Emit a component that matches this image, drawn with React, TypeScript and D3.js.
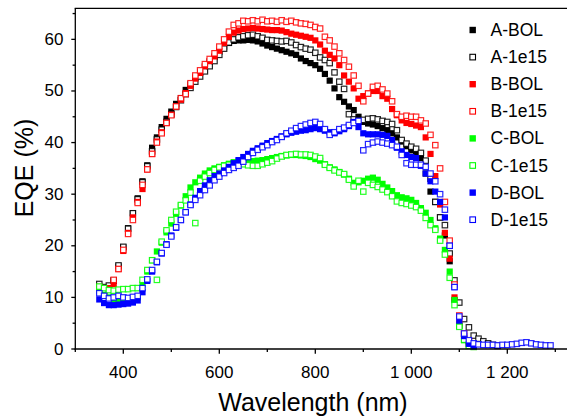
import React from "react";
import * as d3 from "d3";

const wavelength = [
  350, 360, 370, 380, 390, 400, 410, 420, 430, 440,
  450, 460, 470, 480, 490, 500, 510, 520, 530, 540,
  550, 560, 570, 580, 590, 600, 610, 620, 630, 640,
  650, 660, 670, 680, 690, 700, 710, 720, 730, 740,
  750, 760, 770, 780, 790, 800, 810, 820, 830, 840,
  850, 860, 870, 880, 890, 900, 910, 920, 930, 940,
  950, 960, 970, 980, 990, 1000, 1010, 1020, 1030, 1040,
  1050, 1060, 1070, 1080, 1090, 1100, 1110, 1120, 1130, 1140,
  1150, 1160, 1170, 1180, 1190, 1200, 1210, 1220, 1230, 1240,
  1250, 1260, 1270, 1280, 1290,
];

const aBOL = [
  12.0, 11.5, 12.0, 13.2, 16.0, 19.7, 23.4, 26.3, 29.2, 32.5,
  35.6, 39.0, 41.0, 43.0, 44.6, 46.0, 47.5, 48.6, 50.2, 51.3,
  52.6, 53.6, 54.7, 55.7, 56.6, 57.6, 58.6, 59.3, 59.7, 59.8,
  59.8, 59.9, 59.8, 59.6, 59.2, 58.8, 58.5, 58.2, 57.9, 57.6,
  57.3, 57.0, 56.3, 55.8, 55.4, 55.0, 54.3, 53.3, 52.0, 50.5,
  48.8, 47.9, 47.0, 46.3, 45.0, 44.0, 43.7, 43.5, 43.2, 42.8,
  42.4, 41.8, 41.0, 40.2, 39.3, 38.5, 37.9, 37.0, 34.0, 30.5,
  28.5, 25.5, 22.0, 17.0, 9.5, 4.5, 2.0, 1.0, 0.5,
];

const a1e15 = [
  12.6, 12.0, 12.3, 13.3, 16.2, 19.8, 23.3, 26.3, 29.0, 32.3,
  35.4, 38.3, 40.6, 42.5, 44.0, 45.5, 46.9, 48.2, 49.4, 50.6,
  51.8, 52.8, 53.8, 54.8, 55.8, 57.0, 58.2, 59.4, 60.0, 60.4,
  60.6, 60.8, 60.9, 60.6, 60.3, 59.9, 59.8, 59.7, 59.6, 59.7,
  59.4, 58.9, 58.5, 58.2, 58.0, 57.4, 56.5, 56.0, 55.4, 53.6,
  51.8, 50.4, 45.5, 44.5, 44.3, 44.4, 44.6, 44.7, 44.5, 44.2,
  44.0, 43.6, 42.4, 40.5, 39.8, 39.2, 38.8, 38.0, 36.5, 33.0,
  28.5, 25.5, 24.0, 18.5, 13.3, 9.0, 5.8, 4.2, 2.6, 2.0,
  1.5, 1.1, 0.8, 0.6,
];

const bBOL = [
  11.8, 11.2, 11.8, 12.6, 15.5, 19.0, 22.5, 25.5, 28.5, 31.0,
  34.8, 37.8, 40.2, 42.0, 43.8, 45.4, 47.0, 48.3, 49.6, 51.0,
  52.4, 53.5, 54.8, 55.8, 56.7, 57.8, 59.3, 60.5, 61.3, 61.7,
  62.0, 62.1, 62.2, 62.1, 62.0, 61.9, 61.8, 61.8, 61.7, 61.4,
  61.1, 60.9, 60.7, 60.5, 60.3, 59.8, 59.0, 57.8, 57.0, 56.3,
  55.0, 53.0, 51.8, 50.5, 48.5, 49.0, 49.5, 50.0, 50.0, 49.0,
  48.5, 46.5, 45.3, 44.3, 43.8, 43.6, 43.3, 43.0, 41.0, 37.8,
  33.5, 28.0, 22.5, 17.5, 10.0, 5.0, 2.0, 0.8, 0.4,
];

const b1e15 = [
  12.0, 11.0, 11.5, 13.4, 15.5, 19.2, 22.3, 25.0, 28.3, 31.8,
  34.8, 37.8, 40.0, 41.8, 43.8, 45.3, 47.0, 48.6, 49.4, 51.5,
  53.0, 54.0, 55.2, 56.2, 57.3, 58.6, 60.0, 61.5, 62.8, 63.1,
  63.6, 63.5, 63.7, 63.5, 63.8, 63.5, 63.6, 63.4, 63.7, 63.4,
  63.6, 63.3, 63.1, 63.0, 62.8, 62.4, 62.1, 60.5, 59.8, 58.6,
  57.3, 56.0, 54.7, 53.0, 51.0, 48.0, 49.5, 50.8, 51.0, 50.3,
  49.5, 48.0, 45.5, 45.0, 45.2, 45.0, 45.0, 44.3, 43.7, 41.5,
  39.5, 35.0, 28.5, 21.0, 12.5, 6.5, 3.0, 1.5, 0.8,
];

const cBOL = [
  11.2, 10.5, 10.0, 9.6, 9.4, 9.3, 9.3, 9.5, 10.0, 12.5,
  15.0, 17.2, 18.9, 20.6, 22.6, 24.3, 26.2, 27.8, 29.6, 31.3,
  32.3, 33.2, 34.0, 34.6, 35.0, 35.3, 35.6, 35.9, 36.2, 36.3,
  36.4, 36.4, 36.4, 36.5, 36.6, 36.8, 37.0, 37.2, 37.4, 37.5,
  37.6, 37.6, 37.5, 37.4, 37.2, 36.8, 36.5, 35.8, 35.2, 34.8,
  34.3, 33.8, 33.0, 32.2, 32.3, 32.6, 33.0, 33.2, 32.8, 32.0,
  31.3, 30.6, 29.8, 29.4, 29.2, 28.9, 28.3, 27.3, 26.4, 25.0,
  23.4, 21.4, 19.2, 15.0, 9.5, 4.5, 1.7, 0.6,
];

const c1e15 = [
  12.1, 11.8, 11.4, 11.3, 11.5, 11.6, 11.6, 11.8, 11.8, 13.4,
  15.3, 17.2, 13.4, 20.8, 23.0, 25.0, 26.6, 27.9, 28.8, 30.3,
  24.4, 32.6, 33.4, 34.1, 34.7, 35.2, 35.5, 35.7, 35.9, 35.9,
  35.8, 35.6, 35.5, 35.5, 35.8, 36.1, 36.4, 36.9, 37.3, 37.6,
  37.7, 37.8, 37.7, 37.7, 37.6, 37.3, 37.0, 35.7, 35.1, 34.6,
  34.2, 33.9, 32.8, 31.5, 32.6, 30.5, 32.2, 31.8, 31.4, 30.9,
  30.4, 29.6, 28.6, 28.3, 28.1, 27.8, 27.5, 26.8, 25.4, 24.0,
  23.1, 21.0, 18.3, 13.8, 8.5, 4.3, 1.8, 0.6, 0.4,
];

const dBOL = [
  9.6, 8.9, 8.5, 8.5, 8.6, 8.7, 8.8, 9.0, 9.4, 11.0,
  13.2, 15.0, 16.8, 18.5, 20.3, 22.0, 23.5, 25.0, 26.5, 28.0,
  29.3, 30.6, 31.7, 32.7, 33.5, 34.0, 34.6, 35.3, 36.0, 36.6,
  37.2, 37.8, 38.4, 38.9, 39.4, 39.9, 40.3, 40.7, 41.2, 41.6,
  41.9, 42.1, 42.3, 42.4, 42.6, 42.8, 42.6, 42.3, 42.0, 41.8,
  42.2, 42.6, 43.2, 44.0, 43.0, 41.8, 41.6, 41.6, 41.6, 41.5,
  41.3, 40.5, 39.0, 38.3, 37.6, 37.2, 37.0, 35.5, 34.0, 32.5,
  30.5, 28.5, 25.5, 20.0, 12.0, 5.5, 2.5, 1.0, 0.5,
];

const d1e15 = [
  10.8, 10.3, 9.8, 10.0, 10.3, 10.0, 9.9, 10.1, 10.3, 11.8,
  13.5, 15.3, 16.9, 18.6, 20.2, 21.8, 23.6, 25.0, 26.5, 27.9,
  28.9, 29.8, 30.8, 31.7, 32.7, 33.4, 34.1, 34.7, 35.1, 35.5,
  36.3, 37.2, 38.0, 38.6, 39.1, 39.5, 40.1, 40.5, 41.1, 41.8,
  42.3, 42.8, 43.2, 43.5, 43.8, 44.0, 43.6, 42.6, 41.5, 42.0,
  42.6, 42.9, 43.4, 43.8, 44.2, 38.5, 39.7, 40.0, 40.2, 40.0,
  39.8, 39.5, 39.2, 37.6, 36.0, 35.7, 35.7, 35.7, 35.3, 34.0,
  32.5, 30.0, 27.0, 20.0, 12.0, 6.3, 3.0, 1.7, 1.1, 0.9,
  0.8, 0.8, 0.8, 0.7, 0.8, 0.8, 0.9, 1.0, 1.2, 1.3,
  1.1, 0.9, 0.8, 0.7, 0.7,
];

const seriesNames = ["A-BOL", "A-1e15", "B-BOL", "B-1e15", "C-BOL", "C-1e15", "D-BOL", "D-1e15"];
const seriesValues = [aBOL, a1e15, bBOL, b1e15, cBOL, c1e15, dBOL, d1e15];
const seriesColors = ["#000000", "#000000", "#ff0000", "#ff0000", "#00ff00", "#00ff00", "#0000ff", "#0000ff"];
const seriesFilled = [true, false, true, false, true, false, true, false];

const xMajorTicks = [400, 600, 800, 1000, 1200];
const xTickLabels = ["400", "600", "800", "1 000", "1 200"];
const xMinorTicks = [300, 500, 700, 900, 1100, 1300];
const yMajorTicks = [0, 10, 20, 30, 40, 50, 60];
const yMinorTicks = [5, 15, 25, 35, 45, 55, 65];

const W = 567;
const H = 420;
const FONT = "'Liberation Sans', Arial, sans-serif";

export default function App() {
  const left = 75.3;
  const bottom = 349;
  const top = 8.4;
  const x = d3.scaleLinear().domain([300, 1350]).range([left, left + 1050 * 0.48]);
  const y = d3.scaleLinear().domain([0, 66]).range([bottom, top]);

  const S = 5.4; // marker inner size
  const SF = 6.2; // filled marker size

  return (
    <div style={{ position: "absolute", left: 0, top: 0 }}>
      <svg width={W} height={H} viewBox={`0 0 ${W} ${H}`} style={{ display: "block", background: "#fff" }}>
        <rect x={0} y={0} width={W} height={H} fill="#fff" />
        {/* data */}
        <g>
          {seriesValues.map((vals, si) => (
            <g key={si}>
              {vals.map((v, i) => {
                const cx = x(wavelength[i]);
                const cy = y(v);
                return seriesFilled[si] ? (
                  <rect key={i} x={cx - SF / 2} y={cy - SF / 2} width={SF} height={SF} fill={seriesColors[si]} />
                ) : (
                  <rect
                    key={i}
                    x={cx - S / 2}
                    y={cy - S / 2}
                    width={S}
                    height={S}
                    fill="#fff"
                    stroke={seriesColors[si]}
                    strokeWidth={1.2}
                    strokeOpacity={0.85}
                  />
                );
              })}
            </g>
          ))}
        </g>
        {/* axes */}
        <g stroke="#000" strokeWidth={1.3} fill="none">
          <line x1={left} y1={top} x2={left} y2={bottom + 0.65} />
          <line x1={left - 0.65} y1={bottom} x2={W} y2={bottom} />
          <line x1={left - 0.65} y1={top} x2={W} y2={top} />
          {xMajorTicks.map((t) => (
            <line key={"xm" + t} x1={x(t)} x2={x(t)} y1={bottom} y2={bottom + 4.7} />
          ))}
          {xMinorTicks.map((t) => (
            <line key={"xn" + t} x1={x(t)} x2={x(t)} y1={bottom} y2={bottom + 3} />
          ))}
          {yMajorTicks.map((t) => (
            <line key={"ym" + t} x1={left - 4} x2={left} y1={y(t)} y2={y(t)} />
          ))}
          {yMinorTicks.map((t) => (
            <line key={"yn" + t} x1={left - 2.7} x2={left} y1={y(t)} y2={y(t)} />
          ))}
        </g>
        <g fontFamily={FONT} fontSize={17} fill="#000">
          {xMajorTicks.map((t, i) => (
            <text key={"xl" + t} x={x(t)} y={378} textAnchor="middle">
              {xTickLabels[i]}
            </text>
          ))}
          {yMajorTicks.map((t) => (
            <text key={"yl" + t} x={63.5} y={y(t)} textAnchor="end" dominantBaseline="central">
              {t}
            </text>
          ))}
        </g>
        <text x={313} y={411} fontFamily={FONT} fontSize={25} textAnchor="middle" fill="#000">
          Wavelength (nm)
        </text>
        <text
          transform={`translate(33,168) rotate(-90)`}
          fontFamily={FONT}
          fontSize={25}
          textAnchor="middle"
          fill="#000"
        >
          EQE (%)
        </text>
        {/* legend */}
        <g fontFamily={FONT} fontSize={17.5}>
          {seriesNames.map((name, i) => {
            const ly = 30 + i * 27.1;
            return (
              <g key={name}>
                {seriesFilled[i] ? (
                  <rect x={472.7 - 3.2} y={ly - 3.2} width={6.4} height={6.4} fill={seriesColors[i]} />
                ) : (
                  <rect
                    x={472.7 - 2.8}
                    y={ly - 2.8}
                    width={5.6}
                    height={5.6}
                    fill="#fff"
                    stroke={seriesColors[i]}
                    strokeWidth={1.1}
                  />
                )}
                <text x={490.5} y={ly} dominantBaseline="central" fill="#000">
                  {name}
                </text>
              </g>
            );
          })}
        </g>
      </svg>
    </div>
  );
}
